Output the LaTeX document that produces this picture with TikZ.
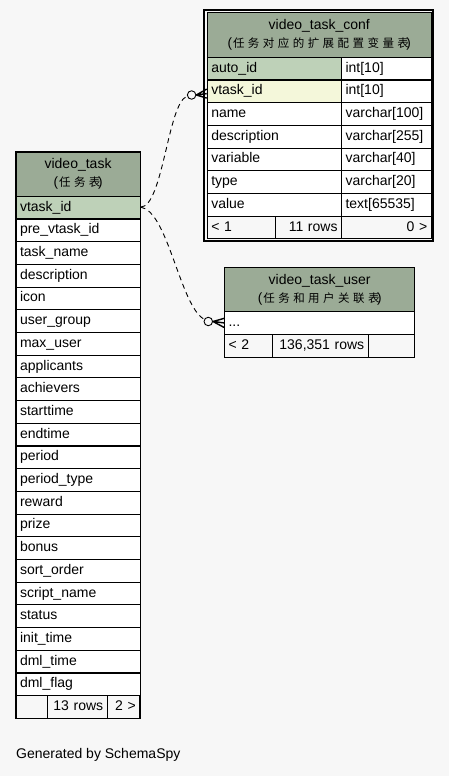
\documentclass[tikz,border=0pt]{standalone}
\usepackage{fontspec}
\setmainfont{Liberation Sans}
\newfontfamily\cjk[LetterSpace=30]{Noto Sans CJK SC}
\usetikzlibrary{calc}
\definecolor{hdr}{HTML}{9BAB96}
\definecolor{keyrow}{HTML}{BED1B8}
\definecolor{fkrow}{HTML}{F4F7DA}
\definecolor{canvas}{HTML}{F7F7F7}
% table comment line: Latin parentheses around spaced-out CJK text
\newcommand{\subt}[1]{{\fontsize{13.5}{18}\selectfont(\kern1pt{\cjk\fontsize{11.5}{18}\selectfont #1}\kern-2.5pt)}}
\tikzset{
  cellL/.style={draw=black, line width=1.1pt, fill=white, anchor=north west,
    inner xsep=4pt, inner ysep=0pt, text height=10pt, text depth=3pt,
    minimum height=22.7pt, align=left, text width=#1},
  cellR/.style={cellL=#1, align=right},
  hdrcell/.style={draw=black, line width=1.1pt, fill=hdr, anchor=north west,
    inner xsep=4pt, inner ysep=0pt, align=center, text width=#1},
  foot/.style={fill=canvas},
  rel/.style={line width=0.9pt, dash pattern=on 5pt off 4pt},
  endcirc/.style={circle, draw=black, line width=0.9pt, fill=canvas,
    minimum size=8.5pt, inner sep=0pt},
  crow/.style={line width=1.4pt},
}
\begin{document}
\begin{tikzpicture}[x=1pt, y=-1pt, font=\fontsize{14}{18}\selectfont]
\fill[canvas] (0,0) rectangle (449,776);
\useasboundingbox (0,0) rectangle (449,776);

% ---- video_task ----
\node[hdrcell=116pt, minimum height=44pt] (vt-head) at (15.5,151.7)
  {video\_task\\\subt{任务表}};
\node[cellL=116pt, fill=keyrow] (vt-0) at (15.5,195.7) {vtask\_id};
\foreach \f [count=\i] in {pre\_vtask\_id, task\_name, description, icon,
    user\_group, max\_user, applicants, achievers, starttime, endtime,
    period, period\_type, reward, prize, bonus, sort\_order, script\_name,
    status, init\_time, dml\_time, dml\_flag}
  \node[cellL=116pt] (vt-\i) at (15.5,{195.7+22.7*\i}) {\f};
\node[cellL=23.8pt, foot] (vt-f1) at (15.5,695.1) {};
\node[cellR=51.4pt, foot] (vt-f2) at (47.3,695.1) {13 rows};
\node[cellR=24.6pt, foot] (vt-f3) at (106.7,695.1) {2 >};
\draw[line width=1.1pt] (vt-head.north west) rectangle (vt-f3.south east);

% ---- video_task_conf ----
\draw[line width=2pt] (204.2,9.8) rectangle (433.2,240.6);
\node[hdrcell=216pt, minimum height=44.4pt] (cf-head) at (206.7,12.3)
  {video\_task\_conf\\\subt{任务对应的扩展配置变量表}};
\node[cellL=126.3pt, fill=keyrow] (cf-auto) at (206.7,56.7) {auto\_id};
\node[cellL=81.7pt] (cf-auto-t) at (341,56.7) {int[10]};
\node[cellL=126.3pt, fill=fkrow] (cf-vtask) at (206.7,79.4) {vtask\_id};
\node[cellL=81.7pt] (cf-vtask-t) at (341,79.4) {int[10]};
\foreach \f/\t [count=\i from 2] in {name/varchar[100], description/varchar[255],
    variable/varchar[40], type/varchar[20], value/text[65535]} {
  \node[cellL=126.3pt] (cf-\i) at (206.7,{56.7+22.7*\i}) {\f};
  \node[cellL=81.7pt] (cf-\i-t) at (341,{56.7+22.7*\i}) {\t};
}
\node[cellL=60.3pt, foot] (cf-f1) at (206.7,215.6) {< 1};
\node[cellR=58pt, foot] (cf-f2) at (275,215.6) {11 rows};
\node[cellR=81.7pt, foot] (cf-f3) at (341,215.6) {0 >};

% ---- video_task_user ----
\node[hdrcell=182.3pt, minimum height=43.7pt] (vu-head) at (224,267.3)
  {video\_task\_user\\\subt{任务和用户关联表}};
\node[cellL=182.3pt] (vu-0) at (224,311) {...};
\node[cellL=39.7pt, foot] (vu-f1) at (224,334) {< 2};
\node[cellR=88pt, foot] (vu-f2) at (271.7,334) {136,351 rows};
\node[cellL=38.6pt, foot] (vu-f3) at (367.7,334) {};

% ---- relationships ----
\node[endcirc] (c1) at (191.6,95) {};
\node[endcirc] (c2) at (208.3,321.5) {};
\draw[rel] ($(vt-0.east)+(0,-0.5)$) .. controls (163,207) and (168,102) .. (c1);
\draw[rel] ($(vt-0.east)+(0,-0.5)$) .. controls (168,211) and (180,306) .. (c2);
\coordinate (k1) at ($(cf-vtask.west)+(0,2.3)$);
\coordinate (k2) at ($(vu-0.west)+(0,0)$);
\draw[crow] (c1.east) -- ($(k1)+(0,-4.5)$)
            (c1.east) -- (k1)
            (c1.east) -- ($(k1)+(0,4.5)$);
\draw[crow] (c2.east) -- ($(k2)+(0,-4.5)$)
            (c2.east) -- (k2)
            (c2.east) -- ($(k2)+(0,4.5)$);

\node[anchor=base west, inner sep=0pt] (gen) at (16,758) {Generated by SchemaSpy};
\end{tikzpicture}
\end{document}
